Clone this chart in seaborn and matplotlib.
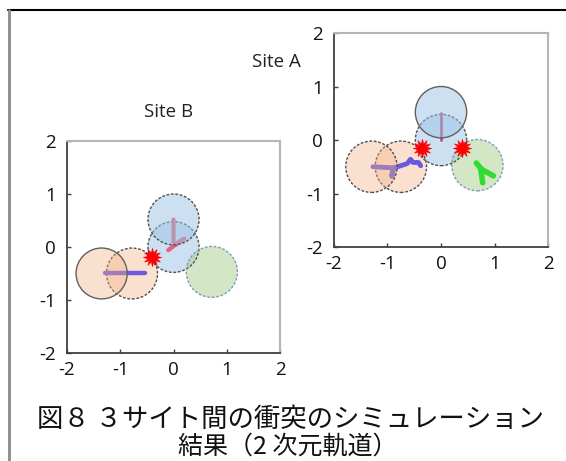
import matplotlib
matplotlib.use("Agg")
import matplotlib.pyplot as plt
from matplotlib.patches import Circle
from matplotlib.lines import Line2D
import seaborn as sns
import pandas as pd

sns.set_style("white")
plt.rcParams["font.family"] = ["Open Sans", "DejaVu Sans"]

# ---- data -------------------------------------------------------------
ticks = [-2, -1, 0, 1, 2]
radius = 0.48

# circles: (x, y, kind, solid_edge, on_top)
site_b_circles = [
    (-0.78, -0.50, "orange", False, False),
    (0.00, 0.00, "blue", False, False),
    (0.72, -0.47, "green", False, False),
    (0.00, 0.52, "blue", False, True),
    (-1.35, -0.50, "orange", True, True),
]
site_a_circles = [
    (-0.75, -0.50, "orange", False, False),
    (0.00, 0.00, "blue", False, False),
    (0.68, -0.47, "green", False, False),
    (-1.30, -0.50, "orange", False, True),
    (0.00, 0.52, "blue", True, True),
]

# trajectories
b_purple_x = [-1.29, -0.53]
b_purple_y = [-0.50, -0.50]
b_red_x = [0.00, 0.00, 0.03, 0.20, 0.06, -0.10]
b_red_y = [0.52, 0.08, 0.04, 0.16, 0.06, -0.06]

a_red_x = [0.00, 0.00]
a_red_y = [0.50, 0.00]
a_purple_x = [-1.27, -0.90, -0.92, -0.88, -0.75, -0.63, -0.57, -0.52, -0.42, -0.38]
a_purple_y = [-0.50, -0.52, -0.68, -0.52, -0.48, -0.44, -0.36, -0.42, -0.42, -0.48]
a_green1_x = [0.98, 0.76, 0.66]
a_green1_y = [-0.67, -0.55, -0.43]
a_green2_x = [0.74, 0.78]
a_green2_y = [-0.53, -0.80]

# collision points
b_hit_x = [-0.40]
b_hit_y = [-0.19]
a_hit_x = [-0.36, 0.39]
a_hit_y = [-0.15, -0.15]

fill = {"orange": "#f4b183", "blue": "#9dc3e6", "green": "#a9d18e"}
edge = {"orange": "#505050", "blue": "#505050", "green": "#7f9cb3"}


def draw_circles(ax, circles):
    for x, y, kind, solid, top in circles:
        z = 3 if top else 1
        face = Circle((x, y), radius, facecolor=fill[kind], alpha=0.38 if kind == "orange" else 0.5,
                      edgecolor="none", zorder=z)
        ax.add_patch(face)
        ls = "-" if solid else (0, (2.0, 1.2))
        ec = "#606060" if solid else edge[kind]
        ring = Circle((x, y), radius, facecolor="none", edgecolor=ec, lw=1.0,
                      linestyle=ls, zorder=z + 0.1)
        ax.add_patch(ring)


def path(ax, xs, ys, color, lw, alpha=1.0):
    df = pd.DataFrame({"x": xs, "y": ys})
    sns.lineplot(data=df, x="x", y="y", sort=False, estimator=None, ax=ax,
                 color=color, lw=lw, alpha=alpha, zorder=2,
                 solid_capstyle="round", solid_joinstyle="round")


def hits(ax, xs, ys):
    df = pd.DataFrame({"x": xs, "y": ys})
    sns.scatterplot(data=df, x="x", y="y", ax=ax, marker=(12, 1, 0), s=170,
                    color="#ff0000", edgecolor="#ff0000", linewidth=0.5, zorder=5)


def style_axes(ax):
    ax.set_xlim(-2, 2)
    ax.set_ylim(-2, 2)
    ax.set_xticks(ticks)
    ax.set_yticks(ticks)
    ax.set_xticklabels([str(t) for t in ticks])
    ax.set_yticklabels([str(t) for t in ticks])
    ax.set_xlabel("")
    ax.set_ylabel("")
    for side in ("left", "bottom"):
        ax.spines[side].set_color("#404040")
        ax.spines[side].set_linewidth(1.3)
    for side in ("top", "right"):
        ax.spines[side].set_color("#b5b5b5")
        ax.spines[side].set_linewidth(1.5)
    ax.tick_params(axis="both", direction="in", length=3, width=1, color="#404040",
                   labelsize=13.5, labelcolor="#111111", bottom=True, left=True)
    ax.tick_params(axis="x", pad=6)
    ax.tick_params(axis="y", pad=8)


fig = plt.figure(figsize=(5.66, 4.61), dpi=100)
fig.patch.set_facecolor("white")

ax_b = fig.add_axes([0.1184, 0.2343, 0.3763, 0.4599])
ax_a = fig.add_axes([0.5901, 0.4642, 0.3781, 0.4642])

# Site B
draw_circles(ax_b, site_b_circles)
path(ax_b, b_purple_x, b_purple_y, "#6a5ae0", 3.2)
path(ax_b, b_red_x, b_red_y, "#e0506a", 3.0, alpha=0.85)
hits(ax_b, b_hit_x, b_hit_y)
style_axes(ax_b)

# Site A
draw_circles(ax_a, site_a_circles)
path(ax_a, a_red_x, a_red_y, "#c05078", 2.0)
path(ax_a, a_purple_x, a_purple_y, "#6a5ae0", 3.5)
path(ax_a, a_green1_x, a_green1_y, "#30dc30", 4.0)
path(ax_a, a_green2_x, a_green2_y, "#30dc30", 4.0)
hits(ax_a, a_hit_x, a_hit_y)
style_axes(ax_a)

fig.text(0.297, 0.757, "Site B", ha="center", va="center", fontsize=13.5, color="#222222")
fig.text(0.488, 0.8655, "Site A", ha="center", va="center", fontsize=13.5, color="#222222")

# caption
cjk = ["Noto Sans CJK JP", "DejaVu Sans"]
fig.text(0.514, 0.091, "図８ ３サイト間の衝突のシミュレーション", ha="center", va="center",
         fontsize=19, family=cjk, color="#111111")
fig.text(0.509, 0.032, "結果（2 次元軌道）", ha="center", va="center",
         fontsize=18, family=cjk, color="#111111")

# page frame
fig.add_artist(Line2D([8 / 566, 1.0], [1 - 10 / 461, 1 - 10 / 461], transform=fig.transFigure,
                      color="black", lw=1.5))
fig.add_artist(Line2D([8.5 / 566, 8.5 / 566], [1 - 10 / 461, 0.0], transform=fig.transFigure,
                      color="#8a8a8a", lw=2.0))

fig.savefig("out.png", dpi=100)
